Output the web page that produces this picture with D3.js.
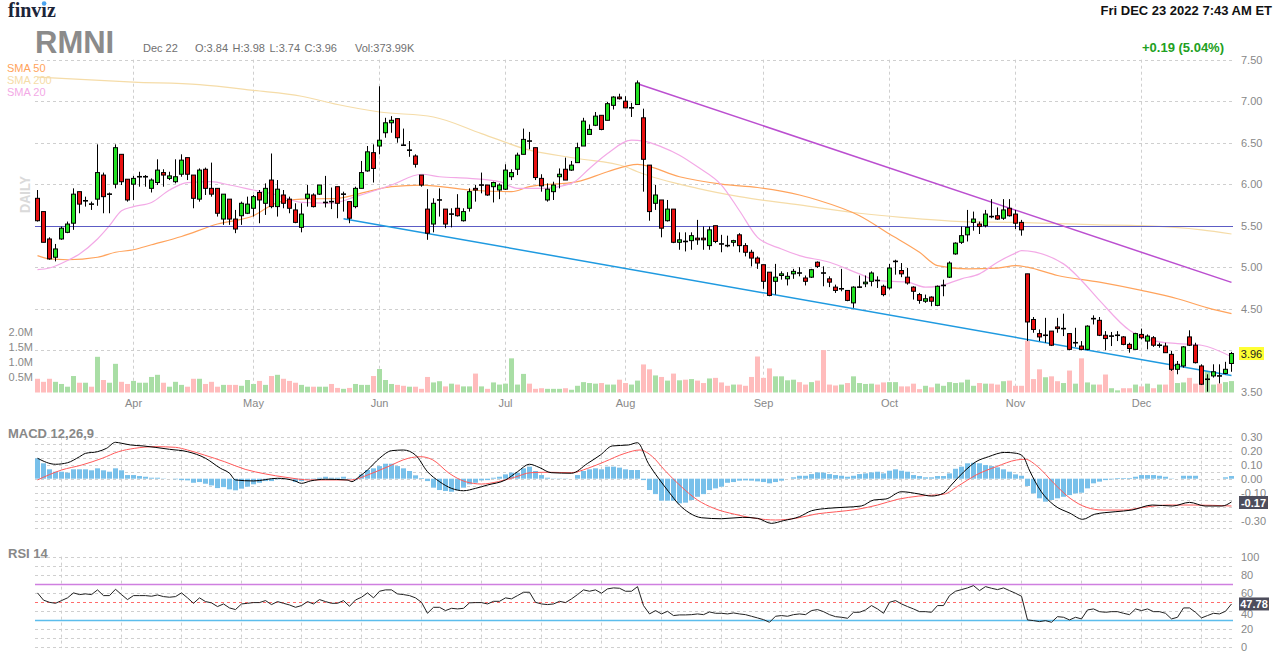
<!DOCTYPE html>
<html>
<head>
<meta charset="utf-8">
<script src="https://cdn.jsdelivr.net/npm/d3@7.9.0/dist/d3.min.js"></script>
<style>
  body { margin: 0; background: #fff; }
  svg text { font-family: "Liberation Sans", Arial, sans-serif; }
</style>
</head>
<body>
<svg id="chart" width="1282" height="662"></svg>
<script>
// ---- data ----
const holidays = ["2022-04-15", "2022-05-30", "2022-06-20", "2022-07-04", "2022-09-05", "2022-11-24"];

const open = [5.83,5.67,5.34,5.12,5.34,5.42,5.53,5.91,5.80,5.76,
  5.82,6.11,5.88,6.00,6.36,6.06,6.00,6.09,6.09,5.95,
  6.02,6.14,6.07,6.03,6.12,6.32,6.11,5.82,6.18,5.95,
  5.95,5.58,5.82,5.58,5.62,5.65,5.71,5.90,5.77,6.05,
  5.73,5.87,5.82,5.69,5.48,5.83,5.87,5.88,5.77,5.80,
  5.97,5.88,5.79,5.73,5.95,6.16,6.38,6.46,6.62,6.74,
  6.79,6.47,6.40,6.34,6.11,5.70,5.52,5.81,5.70,5.64,
  5.71,5.56,5.71,5.95,5.99,5.99,5.97,5.93,5.94,6.09,
  6.18,6.36,6.52,6.44,6.07,5.81,5.91,6.09,6.18,6.17,
  6.26,6.46,6.60,6.71,6.83,6.77,6.95,7.05,7.00,6.92,
  6.96,6.80,6.23,5.77,5.81,5.56,5.70,5.30,5.31,5.32,
  5.35,5.35,5.26,5.50,5.28,5.26,5.30,5.39,5.26,5.18,
  5.11,5.03,4.94,4.83,4.90,4.86,4.92,4.93,4.87,4.88,
  5.06,4.93,4.86,4.76,4.74,4.72,4.57,4.76,4.80,4.83,
  4.84,4.77,4.75,5.07,4.96,4.88,4.76,4.67,4.59,4.64,
  4.54,4.78,4.88,5.16,5.30,5.39,5.54,5.52,5.50,5.61,
  5.62,5.59,5.71,5.64,5.54,4.92,4.37,4.20,4.18,4.23,
  4.28,4.26,4.20,4.09,4.05,4.01,4.38,4.36,4.18,4.17,
  4.18,4.16,4.07,4.01,4.19,4.11,4.15,4.06,4.05,3.95,
  3.77,3.81,4.16,4.06,3.81,3.65,3.69,3.69,3.72,3.84];

const high = [5.93,5.67,5.36,5.28,5.49,5.55,5.95,5.91,5.85,5.79,
  6.48,6.14,5.90,6.48,6.36,6.06,6.10,6.15,6.11,6.07,
  6.30,6.18,6.15,6.30,6.36,6.32,6.11,6.19,6.20,6.26,
  5.95,5.88,5.82,5.69,5.79,5.85,5.87,5.93,6.01,6.37,
  6.05,5.93,5.85,5.77,5.77,5.99,5.89,5.99,6.10,5.96,
  5.97,5.91,5.79,5.97,6.28,6.46,6.48,7.18,6.80,6.82,
  6.79,6.67,6.52,6.36,6.11,5.94,5.83,5.95,5.70,5.71,
  5.88,5.71,5.95,5.99,6.14,5.99,6.03,6.01,6.24,6.18,
  6.38,6.67,6.63,6.44,6.12,6.01,6.03,6.19,6.32,6.28,
  6.50,6.80,6.72,6.87,6.83,6.99,7.06,7.09,7.06,6.98,
  7.25,6.91,6.23,5.99,5.81,5.81,5.70,5.42,5.42,5.42,
  5.57,5.49,5.49,5.50,5.39,5.38,5.33,5.41,5.29,5.21,
  5.13,5.03,4.94,5.04,4.95,4.94,4.98,5.00,4.90,4.98,
  5.07,5.01,4.89,4.79,4.98,4.72,4.77,4.90,4.90,4.95,
  4.89,4.79,5.04,5.09,5.05,4.99,4.77,4.69,4.67,4.65,
  4.78,4.85,5.07,5.30,5.49,5.69,5.67,5.55,5.69,5.82,
  5.72,5.82,5.82,5.69,5.57,4.92,4.40,4.25,4.39,4.23,
  4.39,4.44,4.20,4.27,4.11,4.30,4.42,4.40,4.23,4.22,
  4.23,4.17,4.09,4.21,4.26,4.19,4.17,4.09,4.09,3.99,
  3.87,4.05,4.24,4.09,3.83,3.71,3.83,3.83,3.86,3.98];

const low = [5.55,5.30,5.09,5.07,5.33,5.41,5.45,5.65,5.73,5.69,
  5.74,5.65,5.65,5.95,5.99,5.79,5.81,5.97,5.97,5.90,
  5.99,5.97,6.05,6.01,6.09,6.05,5.71,5.79,5.87,5.85,
  5.61,5.51,5.51,5.41,5.51,5.64,5.61,5.53,5.63,5.71,
  5.61,5.71,5.65,5.53,5.42,5.73,5.72,5.87,5.72,5.70,
  5.59,5.67,5.53,5.71,5.95,6.15,6.02,6.36,6.56,6.62,
  6.50,6.46,6.33,6.20,5.97,5.33,5.42,5.61,5.47,5.48,
  5.61,5.55,5.67,5.79,5.89,5.86,5.78,5.82,5.93,6.05,
  6.11,6.36,6.42,6.05,5.91,5.79,5.81,5.95,6.05,6.16,
  6.26,6.46,6.60,6.70,6.65,6.77,6.90,7.02,6.92,6.81,
  6.96,5.91,5.56,5.69,5.36,5.55,5.29,5.21,5.19,5.21,
  5.27,5.21,5.21,5.29,5.18,5.24,5.25,5.18,5.13,5.01,
  4.98,4.74,4.65,4.67,4.85,4.78,4.86,4.89,4.78,4.87,
  4.99,4.77,4.76,4.69,4.71,4.59,4.51,4.75,4.76,4.77,
  4.75,4.65,4.73,4.91,4.88,4.79,4.61,4.56,4.57,4.53,
  4.53,4.65,4.87,5.15,5.28,5.31,5.44,5.40,5.48,5.59,
  5.57,5.57,5.61,5.46,5.38,4.11,4.21,4.11,4.09,4.05,
  4.21,4.17,4.00,4.04,4.00,4.00,4.31,4.17,4.00,4.05,
  4.11,4.06,3.97,4.01,4.13,4.01,4.04,4.03,3.97,3.75,
  3.71,3.79,4.05,3.84,3.58,3.50,3.67,3.60,3.71,3.74];

const close = [5.56,5.30,5.10,5.22,5.47,5.52,5.88,5.76,5.80,5.76,
  6.14,5.85,5.88,6.44,6.03,5.81,6.07,6.09,6.09,6.05,
  6.17,6.11,6.10,6.09,6.29,6.12,5.83,6.17,5.95,5.88,
  5.65,5.88,5.58,5.46,5.77,5.76,5.85,5.81,5.95,5.73,
  5.94,5.77,5.71,5.54,5.64,5.88,5.73,5.99,5.78,5.79,
  5.77,5.88,5.59,5.95,6.14,6.39,6.19,6.53,6.74,6.77,
  6.56,6.47,6.41,6.24,5.99,5.41,5.77,5.81,5.52,5.64,
  5.62,5.67,5.91,5.93,5.99,5.87,6.02,5.99,6.17,6.14,
  6.35,6.54,6.52,6.08,5.98,5.94,5.99,6.12,6.05,6.23,
  6.44,6.76,6.66,6.82,6.66,6.97,7.05,7.03,6.92,6.92,
  7.22,6.30,5.67,5.87,5.47,5.70,5.30,5.33,5.31,5.38,
  5.33,5.33,5.45,5.31,5.28,5.26,5.32,5.26,5.18,5.11,
  5.05,4.83,4.66,4.88,4.92,4.89,4.95,4.93,4.83,4.97,
  5.01,4.93,4.82,4.72,4.74,4.60,4.76,4.76,4.82,4.93,
  4.84,4.67,4.99,5.07,4.92,4.81,4.71,4.60,4.62,4.59,
  4.77,4.78,5.05,5.29,5.38,5.48,5.58,5.49,5.64,5.61,
  5.58,5.69,5.62,5.53,5.45,4.34,4.25,4.16,4.18,4.06,
  4.26,4.26,4.01,4.09,4.01,4.29,4.38,4.18,4.14,4.17,
  4.18,4.07,4.02,4.20,4.15,4.17,4.06,4.06,3.97,3.77,
  3.83,4.04,4.06,3.85,3.59,3.65,3.74,3.69,3.77,3.96];

// volume in millions of shares
const volume = [0.45,0.35,0.45,0.35,0.28,0.19,0.54,0.32,0.32,0.19,
  1.17,0.41,0.32,0.94,0.35,0.28,0.38,0.32,0.32,0.51,
  0.58,0.32,0.19,0.35,0.25,0.19,0.45,0.45,0.28,0.35,
  0.19,0.25,0.25,0.25,0.22,0.41,0.28,0.38,0.25,0.54,
  0.58,0.45,0.38,0.32,0.25,0.19,0.19,0.19,0.19,0.28,
  0.15,0.12,0.15,0.28,0.25,0.25,0.54,0.77,0.41,0.28,
  0.25,0.22,0.19,0.19,0.12,0.51,0.33,0.37,0.20,0.29,
  0.26,0.20,0.20,0.62,0.20,0.12,0.33,0.26,0.29,1.12,
  0.26,0.61,0.29,0.12,0.14,0.12,0.12,0.12,0.14,0.09,
  0.22,0.34,0.31,0.29,0.31,0.26,0.26,0.42,0.31,0.26,
  0.39,0.92,0.76,0.56,0.51,0.39,0.62,0.40,0.42,0.44,
  0.39,0.31,0.46,0.48,0.33,0.22,0.26,0.26,0.22,0.51,
  1.18,0.48,0.79,0.53,0.53,0.40,0.42,0.34,0.26,0.34,
  0.39,1.39,0.26,0.23,0.26,0.31,0.53,0.31,0.28,0.29,
  0.26,0.33,0.34,0.34,0.20,0.20,0.29,0.11,0.22,0.17,
  0.29,0.22,0.34,0.31,0.33,0.42,0.22,0.31,0.29,0.29,
  0.26,0.37,0.39,0.22,0.22,1.70,0.44,0.76,0.50,0.53,
  0.37,0.31,0.72,0.29,1.12,0.33,0.26,0.26,0.59,0.14,
  0.07,0.14,0.14,0.26,0.20,0.29,0.14,0.26,0.26,0.76,
  0.31,0.33,0.48,0.29,0.26,0.70,0.26,0.29,0.34,0.374];

// moving averages, read at [candle index, price]
const sma20 = [[0,4.97],[2,4.99],[5,5.08],[7,5.16],[10,5.34],[12,5.50],[14,5.68],[16,5.73],[19,5.78],[22,5.93],
  [25,6.02],[29,6.03],[32,5.99],[36,5.93],[40,5.87],[44,5.78],[49,5.77],[53,5.85],[59,5.99],[64,6.12],
  [67,6.09],[72,6.07],[77,6.03],[80,5.95],[84,5.95],[89,6.01],[92,6.19],[95,6.37],[99,6.53],[101,6.52],
  [104,6.45],[107,6.35],[110,6.21],[114,5.99],[117,5.68],[120,5.36],[124,5.22],[127,5.14],[132,5.06],[137,4.92],
  [140,4.84],[145,4.82],[148,4.76],[150,4.77],[154,4.86],[157,4.92],[160,5.06],[163,5.17],[164,5.20],[171,5.04],
  [174,4.84],[177,4.60],[182,4.24],[184,4.16],[187,4.10],[190,4.08],[194,4.06],[199,3.92]];
const sma50 = [[0,5.14],[2,5.10],[5,5.09],[10,5.12],[13,5.18],[16,5.21],[19,5.27],[24,5.37],[30,5.52],[36,5.62],
  [40,5.78],[44,5.82],[50,5.83],[55,5.91],[59,5.97],[64,5.99],[72,5.93],[79,5.91],[82,5.97],[90,6.03],
  [95,6.15],[100,6.24],[107,6.09],[114,6.00],[120,5.96],[127,5.87],[130,5.81],[137,5.62],[142,5.40],[147,5.18],
  [150,5.02],[155,4.98],[160,4.99],[163,5.02],[165,5.00],[170,4.90],[177,4.82],[184,4.72],[190,4.62],[195,4.51],[199,4.44]];
const sma200 = [[0,7.29],[16,7.23],[27,7.20],[36,7.13],[44,7.06],[50,6.96],[57,6.87],[66,6.81],[74,6.61],[82,6.41],
  [90,6.31],[98,6.21],[100,6.15],[110,5.95],[117,5.85],[127,5.75],[137,5.65],[144,5.60],[154,5.55],[163,5.54],
  [177,5.51],[184,5.50],[194,5.45],[199,5.40]];

// drawn trend lines [candle index, price]
const resistanceLine = [[100, 7.21], [199, 4.817]];
const supportLine = [[51, 5.584], [199, 3.696]];
const levelLine = 5.5;

// MACD 12,26,9 read at [candle index, value]
const macdLine = [[0,0.146],[3,0.103],[5,0.114],[7,0.157],[8,0.181],[10,0.193],[11.5,0.217],[13,0.26],[14,0.253],[15.5,0.241],
  [17.6,0.234],[19.6,0.224],[22,0.21],[25,0.193],[28,0.146],[30.5,0.074],[32,0.039],[33,-0.009],[36,-0.016],[40,0.003],
  [42.8,-0.014],[44,-0.033],[45.5,-0.016],[48,-0.004],[51.6,-0.009],[52.4,-0.021],[53.6,0.014],[55,0.062],[57,0.146],[59,0.2],
  [61,0.205],[63,0.169],[65,0.05],[67,-0.021],[69,-0.069],[71,-0.086],[73,-0.069],[75,-0.045],[78,-0.009],[80,0.05],
  [82,0.103],[83.6,0.081],[85.6,0.043],[89,0.039],[91.7,0.11],[93.8,0.169],[95.8,0.234],[98.5,0.241],[100,0.257],[101.8,0.11],
  [103.5,0.003],[105.2,-0.093],[107,-0.188],[108.6,-0.243],[110.7,-0.279],[114,-0.286],[117.5,-0.276],[120,-0.283],[122.3,-0.319],[124.3,-0.3],
  [127,-0.271],[129,-0.229],[131.9,-0.211],[134.6,-0.204],[137.3,-0.195],[139.4,-0.152],[141.4,-0.145],[144,-0.093],[146.9,-0.109],[149,-0.124],
  [151,-0.104],[152.3,-0.045],[154.4,0.05],[156.4,0.121],[158.5,0.157],[161.2,0.188],[163.2,0.181],[164.3,0.157],[165.3,0.062],[167.3,-0.093],
  [169.4,-0.188],[172.1,-0.247],[174.2,-0.29],[176.2,-0.254],[179.6,-0.236],[182.4,-0.224],[185.8,-0.188],[189.2,-0.195],[192,-0.169],[194.6,-0.195],
  [197.4,-0.195],[199,-0.166]];
const signalLine = [[0,-0.009],[4,0.062],[7.4,0.098],[10.8,0.146],[13.5,0.193],[16.2,0.217],[19.6,0.229],[23,0.224],[25,0.205],[27.8,0.169],
  [31.2,0.121],[34.6,0.067],[38,0.034],[41.4,0.01],[45.5,-0.009],[49.6,-0.009],[52.3,-0.009],[55,0.026],[58.4,0.086],[61.8,0.146],
  [63.9,0.157],[65.9,0.134],[68.6,0.039],[71.3,-0.021],[74,-0.038],[76.8,-0.021],[79.5,0.01],[82.2,0.043],[85,0.046],[89,0.043],
  [91.7,0.074],[94.5,0.121],[97.9,0.181],[100.4,0.205],[102.5,0.157],[104.5,0.062],[107.3,-0.057],[110,-0.152],[112.7,-0.211],[116.2,-0.254],
  [119.6,-0.283],[123,-0.295],[126.4,-0.283],[129.8,-0.252],[133.2,-0.236],[136.6,-0.219],[140,-0.188],[143.4,-0.147],[146.9,-0.124],[151,-0.111],
  [153.7,-0.045],[156.4,0.026],[159.8,0.086],[163.2,0.134],[164.6,0.139],[166.7,0.086],[169.4,-0.033],[172.1,-0.14],[174.8,-0.204],[177.6,-0.224],
  [181,-0.224],[184.4,-0.204],[188.5,-0.188],[192.6,-0.188],[199,-0.195]];
const macdHist = [0.145,0.11,0.067,0.05,0.05,0.043,0.067,0.067,0.067,0.06,
  0.074,0.06,0.05,0.074,0.06,0.026,0.026,0.019,0.014,0.007,
  0.007,0.002,0,-0.004,-0.01,-0.012,-0.029,-0.024,-0.036,-0.048,
  -0.067,-0.06,-0.076,-0.083,-0.071,-0.057,-0.04,-0.029,-0.017,-0.017,
  -0.005,-0.003,-0.002,-0.024,-0.017,-0.005,0.003,0.007,0.014,0.007,
  0.007,0.014,0.003,-0.01,0.031,0.062,0.074,0.09,0.107,0.107,
  0.09,0.074,0.055,0.024,0.005,-0.017,-0.064,-0.081,-0.088,-0.093,
  -0.083,-0.064,-0.04,-0.029,-0.012,-0.01,0.007,0.014,0.031,0.043,
  0.043,0.074,0.086,0.055,0.026,0.007,0.002,0.002,0.002,0,
  0.026,0.055,0.067,0.074,0.067,0.086,0.086,0.079,0.067,0.062,
  0.062,-0.01,-0.081,-0.11,-0.157,-0.157,-0.157,-0.176,-0.171,-0.152,
  -0.129,-0.11,-0.081,-0.069,-0.057,-0.029,-0.024,-0.014,-0.012,-0.014,
  -0.019,-0.024,-0.033,-0.024,-0.014,0,0.01,0.021,0.021,0.033,
  0.045,0.043,0.033,0.026,0.021,0.014,0.021,0.033,0.038,0.045,
  0.05,0.038,0.057,0.067,0.057,0.05,0.026,0.019,0.01,0.01,
  0.019,0.019,0.038,0.071,0.086,0.11,0.114,0.11,0.098,0.09,
  0.081,0.067,0.05,0.031,0.021,-0.052,-0.105,-0.14,-0.164,-0.152,
  -0.14,-0.129,-0.117,-0.105,-0.1,-0.069,-0.033,-0.021,-0.01,-0.005,
  0.005,0.005,0.005,0.014,0.026,0.026,0.026,0.021,0.014,0.002,
  0,0.021,0.021,0.021,0,0,0,0,0.01,0.019];

// RSI 14, one value per candle
const rsi = [60,52,49.6,48.5,51.5,54.5,60,58.1,58.9,58.1,
  63.3,57,57,64,58.1,52.6,57,57,57,56.3,
  57.7,55.9,55.2,55.9,60,54.5,48.5,54.5,50.4,49,
  44.9,47.8,43.4,41.6,47.8,48.5,49.3,49.3,51.5,47.1,
  50.4,48.5,46.7,44.1,46,50.4,47.8,52.6,50.4,48.5,
  48.5,51.5,45.2,52.2,55.2,60,54.5,61.8,63.3,63.3,
  58.9,58.1,57,54.5,49.6,37.5,44.1,44.1,40.5,43,
  42.3,43,49,49.3,49.3,47.8,50.7,50.7,54.5,53.4,
  57,60.7,60.7,49.6,47.8,47.1,47.8,50.7,49.3,53.4,
  58.1,63.3,61.8,63.3,59.6,64.4,65.5,65.1,61.8,61.8,
  66.9,46,36.8,40.5,36.8,39.7,35,35.7,35.7,36,
  36.8,36,39,37.5,37.5,36.8,37.9,36.8,36,34.2,
  32.4,30.5,27.6,34.2,35,34.2,36,36.8,36,40.5,
  41.6,39.3,36,33.8,33.1,32,38.6,38.6,41.2,46,
  42.3,37.5,49.6,51.5,47.8,44.9,42.3,39.3,39.3,38.6,
  46,46,57,61.8,63.6,65.5,68,62.5,66.9,65.1,
  63.6,65.5,62.5,59.6,56.3,30.2,29.4,28.3,29.4,27.6,
  33.8,33.1,30.2,33.1,31.3,41.2,42.3,39.3,38.6,39.3,
  39.3,37.5,36,42.3,40.5,42.3,39.3,39.3,37.5,31.3,
  33.1,43.4,43.4,38.6,32.4,35,37.5,36.8,39.7,47.78];

// tick labels shown on the right (4.00 and -0.20 sit hidden under the value boxes)
const priceTicks = [3.5, 4.5, 5.0, 5.5, 6.0, 6.5, 7.0, 7.5];
const priceGrid = [4.0, 4.5, 5.0, 5.5, 6.0, 6.5, 7.0, 7.5];
const volumeTicks = [0.5, 1.0, 1.5, 2.0];
const macdTicks = [0.3, 0.2, 0.1, 0, -0.1, -0.3];
const rsiTicks = [0, 20, 40, 60, 80, 100];

// ---- scales ----
const svg = d3.select("#chart");
const fmtDay = d3.timeFormat("%Y-%m-%d");
const dates = d3.timeDay.range(new Date(2022, 2, 10), new Date(2022, 11, 23))
  .filter(d => d.getDay() % 6 !== 0 && !holidays.includes(fmtDay(d)));
const keys = dates.map(fmtDay);
const n = keys.length;

const x = d3.scaleBand().domain(keys).range([34.5, 1234.5]);
const xi = d3.scaleLinear().domain([0, n - 1])
  .range([x(keys[0]) + x.bandwidth() / 2, x(keys[n - 1]) + x.bandwidth() / 2]);
const monthStarts = keys.filter((k, i) => i > 0 && dates[i].getMonth() !== dates[i - 1].getMonth());

const yPrice = d3.scaleLinear().domain([3.5, 7.5]).range([391.7, 59.7]);
const yVol = d3.scaleLinear().domain([0, 2]).range([392.5, 331.5]);
const yMacd = d3.scaleLinear().domain([-0.35, 0.30]).range([527.7, 436.7]);
const yRsi = d3.scaleLinear().domain([0, 100]).range([647.3, 556.6]);

const crisp = v => Math.round(v) + 0.5;
const left = 35, right = 1233;
const gridColor = "#cfcfcf";

function hGrid(g, values, scale) {
  g.selectAll("line").data(values).join("line")
    .attr("x1", left).attr("x2", right)
    .attr("y1", d => crisp(scale(d))).attr("y2", d => crisp(scale(d)))
    .attr("stroke", gridColor).attr("stroke-dasharray", "3,3");
}
function vGrid(g, xs, y1, y2) {
  g.selectAll("line").data(xs).join("line")
    .attr("x1", d => d).attr("x2", d => d)
    .attr("y1", y1).attr("y2", y2)
    .attr("stroke", gridColor).attr("stroke-dasharray", "3,3");
}
function rightAxis(scale, ticks, fmt) {
  const g = svg.append("g").attr("transform", "translate(1238,0)")
    .call(d3.axisRight(scale).tickValues(ticks).tickSize(0).tickPadding(3).tickFormat(fmt));
  g.select(".domain").remove();
  g.selectAll("text").attr("fill", "#888").style("font-size", "11px");
  return g;
}
function valueBox(y, w, label, bg, fg) {
  svg.append("rect").attr("x", 1239).attr("y", y - 6.5).attr("width", w).attr("height", 13).attr("fill", bg);
  svg.append("text").attr("x", 1239 + w / 2).attr("y", y + 4).attr("text-anchor", "middle")
    .attr("fill", fg).style("font-size", "11px").style("font-weight", fg === "#fff" ? "bold" : "normal").text(label);
}

// ---- header ----
const logo = svg.append("text").attr("x", 8).attr("y", 17)
  .style("font-family", "'Liberation Serif', 'DejaVu Serif', serif").style("font-weight", "bold")
  .style("font-size", "20px").attr("fill", "#1c2539").text("finviz");
const iBox = logo.node().getExtentOfChar(4);
svg.append("circle").attr("cx", iBox.x + iBox.width / 2).attr("cy", iBox.y + 4.5).attr("r", 2.3).attr("fill", "#4aa3f0");

svg.append("text").attr("x", 35).attr("y", 52.7).style("font-size", "31px").style("font-weight", "bold")
  .attr("fill", "#8b8b8b").text("RMNI");
const quote = [["Dec 22", 143], ["O:3.84", 195], ["H:3.98", 232.5], ["L:3.74", 269.5], ["C:3.96", 304.5], ["Vol:373.99K", 355]];
svg.selectAll("text.quote").data(quote).join("text").attr("class", "quote")
  .attr("x", d => d[1]).attr("y", 52).style("font-size", "11px").attr("fill", "#707070").text(d => d[0]);
svg.append("text").attr("x", 1272).attr("y", 15).attr("text-anchor", "end")
  .style("font-size", "13px").style("font-weight", "bold").attr("fill", "#111").text("Fri DEC 23 2022 7:43 AM ET");
svg.append("text").attr("x", 1224).attr("y", 51.5).attr("text-anchor", "end")
  .style("font-size", "13px").style("font-weight", "bold").attr("fill", "#22a022").text("+0.19 (5.04%)");

const legend = [["SMA 50", "#ffa35c"], ["SMA 200", "#f5dca8"], ["SMA 20", "#f3a9e6"]];
svg.selectAll("text.legend").data(legend).join("text").attr("class", "legend")
  .attr("x", 7).attr("y", (d, i) => 71.7 + i * 12).style("font-size", "11px")
  .attr("fill", d => d[1]).text(d => d[0]);

svg.append("text").attr("transform", "translate(29.5,194.5) rotate(-90)").attr("text-anchor", "middle")
  .style("font-size", "15px").style("font-weight", "bold").attr("fill", "#dadada")
  .attr("textLength", 37).attr("lengthAdjust", "spacingAndGlyphs").text("DAILY");

// ---- price panel ----
const pg = svg.append("g");
hGrid(pg.append("g"), priceGrid, yPrice);
vGrid(pg.append("g"), monthStarts.map(k => x(k) + x.bandwidth() / 2), 59.7, 392);

const monthAxis = svg.append("g").attr("transform", "translate(0,398)")
  .call(d3.axisBottom(x).tickValues(monthStarts).tickSize(0).tickPadding(1)
    .tickFormat(k => d3.timeFormat("%b")(d3.timeParse("%Y-%m-%d")(k))));
monthAxis.select(".domain").remove();
monthAxis.selectAll("text").attr("fill", "#888").style("font-size", "11px");

const isUp = i => close[i] > open[i] || (close[i] === open[i] && (i === 0 || close[i] >= close[i - 1]));

// volume bars
pg.append("g").selectAll("rect").data(volume).join("rect")
  .attr("x", (d, i) => x(keys[i]) + 0.5).attr("width", 5)
  .attr("y", d => yVol(d)).attr("height", d => yVol(0) - yVol(d))
  .attr("fill", (d, i) => isUp(i) ? "#a9dea5" : "#ffbcbc");

const volAxis = svg.append("g").attr("transform", "translate(34,0)")
  .call(d3.axisLeft(yVol).tickValues(volumeTicks).tickSize(0).tickPadding(1).tickFormat(d => d.toFixed(1) + "M"));
volAxis.select(".domain").remove();
volAxis.selectAll("text").attr("fill", "#888").style("font-size", "11px");

// moving averages
const pLine = d3.line().x(d => xi(d[0])).y(d => yPrice(d[1])).curve(d3.curveMonotoneX);
[[sma200, "#f5dca8"], [sma50, "#ffa35c"], [sma20, "#f3a9e6"]].forEach(([s, c]) => {
  pg.append("path").datum(s).attr("d", pLine).attr("fill", "none").attr("stroke", c).attr("stroke-width", 1.2);
});

// trend lines
const tLine = d3.line().x(d => xi(d[0])).y(d => yPrice(d[1]));
pg.append("line").attr("x1", left).attr("x2", right)
  .attr("y1", crisp(yPrice(levelLine))).attr("y2", crisp(yPrice(levelLine)))
  .attr("stroke", "#5c5cc4").attr("stroke-width", 1);
pg.append("path").datum(resistanceLine).attr("d", tLine).attr("stroke", "#bb4fd0").attr("stroke-width", 1.5).attr("fill", "none");
pg.append("path").datum(supportLine).attr("d", tLine).attr("stroke", "#1f9ae0").attr("stroke-width", 1.5).attr("fill", "none");

// candles
const candles = pg.append("g").selectAll("g").data(d3.range(n)).join("g");
candles.append("line")
  .attr("x1", i => xi(i)).attr("x2", i => xi(i))
  .attr("y1", i => yPrice(high[i])).attr("y2", i => yPrice(low[i]))
  .attr("stroke", "#000").attr("stroke-width", 1);
candles.filter(i => Math.abs(close[i] - open[i]) >= 0.015).append("rect")
  .attr("x", i => xi(i) - 2).attr("width", 4)
  .attr("y", i => yPrice(Math.max(open[i], close[i])))
  .attr("height", i => Math.max(1, yPrice(Math.min(open[i], close[i])) - yPrice(Math.max(open[i], close[i]))))
  .attr("fill", i => close[i] >= open[i] ? "#22e022" : "#e81010")
  .attr("stroke", "#000").attr("stroke-width", 1);
candles.filter(i => Math.abs(close[i] - open[i]) < 0.015).append("line")
  .attr("x1", i => xi(i) - 2.5).attr("x2", i => xi(i) + 2.5)
  .attr("y1", i => yPrice(close[i])).attr("y2", i => yPrice(close[i]))
  .attr("stroke", "#000").attr("stroke-width", 1.6);

rightAxis(yPrice, priceTicks, d => d.toFixed(2));
valueBox(yPrice(close[n - 1]), 25, close[n - 1].toFixed(2), "#ffff33", "#222");

// ---- MACD panel ----
const indicatorGridX = d3.range(4, n, 10).map(i => xi(i));
const mg = svg.append("g");
hGrid(mg.append("g"), d3.range(-0.35, 0.3001, 0.05), yMacd);
vGrid(mg.append("g"), indicatorGridX, 436.7, 527.7);
svg.append("text").attr("x", 8).attr("y", 438).style("font-size", "13px").style("font-weight", "bold")
  .attr("fill", "#888").text("MACD 12,26,9");

mg.append("g").selectAll("rect").data(macdHist).join("rect")
  .attr("x", (d, i) => x(keys[i]) + 0.5).attr("width", 5)
  .attr("y", d => Math.min(yMacd(0), yMacd(d))).attr("height", d => Math.abs(yMacd(d) - yMacd(0)))
  .attr("fill", "#78c0ea");
const mLine = d3.line().x(d => xi(d[0])).y(d => yMacd(d[1])).curve(d3.curveMonotoneX);
mg.append("path").datum(signalLine).attr("d", mLine).attr("fill", "none").attr("stroke", "#ff5a5a").attr("stroke-width", 1);
mg.append("path").datum(macdLine).attr("d", mLine).attr("fill", "none").attr("stroke", "#000").attr("stroke-width", 1);
rightAxis(yMacd, macdTicks, d => d.toFixed(2));
valueBox(yMacd(-0.17), 29, "-0.17", "#4d4d5c", "#fff");

// ---- RSI panel ----
const rg = svg.append("g");
hGrid(rg.append("g"), d3.range(0, 101, 10), yRsi);
vGrid(rg.append("g"), indicatorGridX, 556.6, 647.3);
svg.append("text").attr("x", 8).attr("y", 558).style("font-size", "13px").style("font-weight", "bold")
  .attr("fill", "#888").text("RSI 14");
[[70, "#cf7fe0", null], [30, "#5cbdec", null], [50, "#ff6b6b", "3,3"]].forEach(([v, c, dash]) => {
  rg.append("line").attr("x1", left).attr("x2", right)
    .attr("y1", crisp(yRsi(v))).attr("y2", crisp(yRsi(v)))
    .attr("stroke", c).attr("stroke-width", dash ? 1 : 1.3).attr("stroke-dasharray", dash);
});
rg.append("path").datum(rsi)
  .attr("d", d3.line().x((d, i) => xi(i)).y(d => yRsi(d)))
  .attr("fill", "none").attr("stroke", "#222").attr("stroke-width", 1);
const rsiAxis = rightAxis(yRsi, rsiTicks, d => d);
rsiAxis.selectAll("text").filter(d => d === 40).attr("dy", "0.55em");
valueBox(yRsi(rsi[n - 1]), 30, rsi[n - 1].toFixed(2), "#4d4d5c", "#fff");
</script>
</body>
</html>
